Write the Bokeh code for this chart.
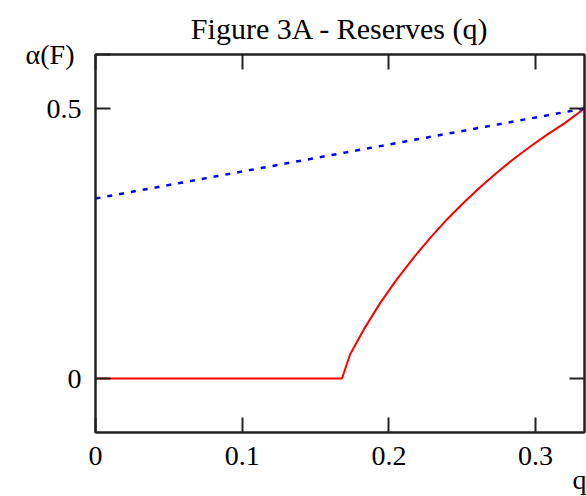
from bokeh.plotting import figure
from bokeh.models import FixedTicker, LinearAxis, Range1d, Title
from bokeh.embed import file_html
from bokeh.resources import INLINE

# Data
q_red = [0.0, 0.168, 0.1736, 0.1827, 0.1941, 0.2055, 0.2169, 0.2283, 0.2397,
         0.2511, 0.2625, 0.2739, 0.2852, 0.2966, 0.3081, 0.3194, 0.3333]
a_red = [0.0, 0.0, 0.045, 0.090, 0.140, 0.184, 0.224, 0.261, 0.295,
         0.326, 0.355, 0.382, 0.407, 0.430, 0.452, 0.472, 0.5]
q_blue = [0.0, 0.3333]
a_blue = [0.3333, 0.5]

x_start, x_end = 0.0, 1/3
y_start, y_end = -0.1, 0.6
x_ticks = [0, 0.1, 0.2, 0.3]
x_tick_labels = ["0", "0.1", "0.2", "0.3"]
y_ticks = [0, 0.5]
y_tick_labels = ["0", "0.5"]

title_text = "Figure 3A - Reserves (q)"
y_label = "\u03b1(F)"
x_label = "q"

FONT = "Liberation Serif"
FS = "28px"
INK = "#222222"

p = figure(width=586, height=496, output_backend="svg", toolbar_location=None,
           x_range=Range1d(x_start, x_end), y_range=Range1d(y_start, y_end),
           min_border_left=95, min_border_right=2, min_border_top=54, min_border_bottom=64)
p.background_fill_color = "white"
p.border_fill_color = "white"
p.outline_line_color = INK
p.outline_line_width = 2
p.grid.visible = False

p.line(q_red, a_red, line_color="#ff0000", line_width=2)
p.line(q_blue, a_blue, line_color="#0000ff", line_width=2.5, line_dash="5 7")


def style_axis(ax, ticks, labels, show_labels):
    ax.ticker = FixedTicker(ticks=ticks)
    ax.major_tick_in = 15
    ax.major_tick_out = 0
    ax.minor_tick_line_color = None
    ax.major_tick_line_width = 2
    ax.major_tick_line_color = INK
    ax.axis_line_width = 2
    ax.axis_line_color = INK
    ax.major_label_text_font = FONT
    ax.major_label_text_font_size = FS
    if show_labels:
        ax.major_label_overrides = {t: l for t, l in zip(ticks, labels)}
        ax.major_label_text_color = "black"
    else:
        ax.major_label_overrides = {t: "" for t in ticks}
        ax.major_label_text_color = None
        ax.major_label_standoff = 0


# bottom axis: numeric ticks
style_axis(p.xaxis[0], x_ticks, x_tick_labels, True)
p.xaxis[0].major_label_standoff = 14

# left axis: numeric ticks plus the axis name at the top end of the axis
style_axis(p.yaxis[0], y_ticks + [y_end], y_tick_labels + [y_label + "\u00a0"], True)
p.yaxis[0].major_label_standoff = 14

top = LinearAxis()
style_axis(top, x_ticks, x_tick_labels, False)
p.add_layout(top, "above")
right = LinearAxis()
style_axis(right, y_ticks, y_tick_labels, False)
p.add_layout(right, "right")

p.title.text = title_text
p.title.align = "center"
p.title.text_font = FONT
p.title.text_font_size = "30px"
p.title.text_font_style = "normal"
p.title.text_color = "black"
p.title.standoff = 19

p.add_layout(Title(text=x_label, align="right", offset=-2, standoff=-12,
                   text_font=FONT, text_font_size=FS, text_font_style="normal",
                   text_color="black"), "below")

open("out.html", "w").write(file_html(p, INLINE))
